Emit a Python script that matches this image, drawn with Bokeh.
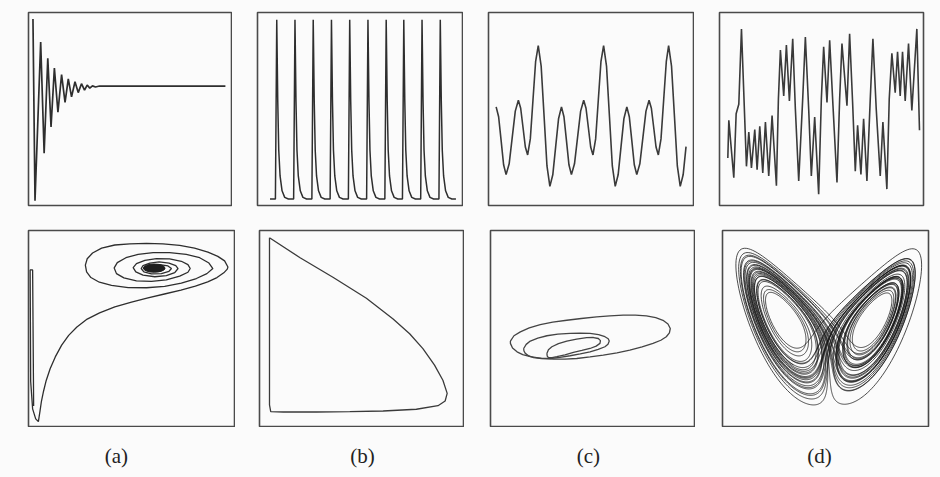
import numpy as np
from bokeh.plotting import figure
from bokeh.layouts import column, row
from bokeh.models import Range1d
from bokeh.core.properties import value
from bokeh.embed import file_html
from bokeh.resources import INLINE

INK = "#2e2e2e"
FRAME = "#4a4a4a"
BG = "#fbfbfb"

# ---------------------------------------------------------------- (a) fixed point
# time series: alternating extrema of the damped oscillation (time, value), 0-100 units
a_t = [2.2, 3.2, 6.0, 7.7, 9.5, 11.1, 12.75, 14.5, 16.3, 18.0, 19.6, 21.2, 22.9,
       24.5, 26.1, 27.6, 28.9, 30.2, 31.5, 33.0, 35.0, 97.0]
a_v = [96.6, 2.5, 84.7, 27.1, 76.3, 40.7, 71.2, 48.3, 67.8, 53.4, 65.6, 56.3, 64.1,
       58.5, 63.1, 59.8, 62.4, 60.8, 62.0, 61.4, 61.9, 61.9]
# phase portrait: trajectory spiralling into the stable focus
a_ph_x = [2.5, 2.0, 0.8, 1.05, 2.0, 3.5, 4.8,
          5.6, 6.3, 7.3, 8.6, 10.5, 13.0, 16.1, 19.5, 23.5, 28.5, 34.5, 41.9, 50.0,
          58.0, 66.0, 74.0, 81.0, 87.0, 91.5, 94.8, 96.5,
          96.8, 95.2, 91.9, 87.1, 80.6, 73.4, 65.3, 57.3, 49.2, 41.9, 35.5, 31.1, 28.5,
          27.6, 28.2, 30.3, 34.4, 40.3, 48.4, 57.3, 66.1, 74.2, 81.5, 86.6,
          89.5, 87.6, 83.1, 76.6, 68.5, 60.5, 53.2, 47.3, 43.1, 41.6, 42.7, 46.3, 52.4,
          59.7, 66.9, 73.4, 77.4,
          78.5, 77.4, 74.2, 68.5, 62.1, 56.5, 52.4, 50.8, 52.1, 55.6, 61.3, 66.9, 71.0,
          72.6, 71.5, 68.2, 63.4, 58.9, 55.6, 54.7, 56.0, 59.7, 64.5, 68.2,
          69.4, 67.7, 63.7, 59.7, 58.1, 59.7, 63.7, 66.1]
a_ph_y = [10.5, 79.9, 79.9, 23.1, 9.0, 3.9, 2.5,
          8.0, 13.0, 18.0, 23.5, 29.5, 35.5, 41.5, 46.5, 50.8, 54.8, 58.0, 61.0, 63.5,
          65.6, 67.6, 69.6, 71.6, 73.8, 76.0, 78.4, 80.3,
          81.4, 84.5, 86.8, 89.0, 91.0, 92.4, 93.2, 93.4, 93.2, 92.6, 91.0, 88.5, 85.6,
          82.3, 78.9, 76.0, 73.6, 72.0, 70.9, 70.8, 71.5, 73.1, 75.5, 78.0,
          80.6, 83.4, 86.1, 87.8, 88.7, 88.7, 87.8, 86.1, 83.6, 80.9, 78.0, 75.8, 74.3,
          74.0, 74.8, 76.7, 78.7,
          80.6, 82.6, 84.3, 85.5, 85.6, 84.8, 83.1, 81.1, 78.9, 77.2, 76.4, 77.0, 78.5,
          80.6, 82.1, 83.4, 84.0, 83.4, 82.1, 80.6, 78.9, 77.9, 78.0, 79.2,
          80.6, 81.9, 82.6, 82.1, 80.6, 79.2, 79.1, 80.4]
a_core = dict(x=[61.0], y=[80.8], w=[10.5], h=[4.2])

# ---------------------------------------------------------------- (b) limit cycle
b_peak_t = [9.39, 18.28, 27.18, 36.08, 44.98, 53.88, 62.78, 71.36, 80.26, 89.16]
b_spike_dt = [-0.65, 0.0, 0.49, 0.97, 1.62, 2.59, 3.88, 5.66]
b_spike_v = [3.4, 96.3, 54.2, 28.8, 15.3, 7.6, 4.2, 3.4]
b_start = (6.1, 3.4)
b_end = (96.8, 3.4)
b_ph_x = [4.9, 19.9, 36.2, 52.4, 65.5, 73.6, 80.1, 85.8, 89.9, 92.0, 91.0, 87.5, 76.9,
          60.6, 44.3, 28.0, 11.7, 5.5, 4.9, 4.9, 4.9]
b_ph_y = [96.3, 86.1, 76.0, 65.4, 54.9, 47.3, 39.7, 31.3, 23.6, 16.9, 13.0, 10.6, 8.8,
          7.9, 7.6, 7.4, 7.4, 7.6, 11.0, 56.6, 96.3]

# ---------------------------------------------------------------- (c) quasi-periodic
c_big_t = [-7.6, 24.27, 56.15, 87.86]          # times of the tall peaks
c_cycle_dt = [0, 1.42, 2.84, 4.25, 5.67, 7.09, 8.50, 9.92, 11.33, 12.54, 13.76, 14.97,
              16.18, 17.68, 19.18, 20.67, 22.17, 23.30, 24.44, 25.57, 26.70, 28.0,
              29.29, 30.58]
c_cycle_v = [82.8, 72.2, 46.4, 20.5, 9.9, 15.9, 30.5, 45.1, 51.1, 46.0, 33.6, 21.1,
             16.0, 21.6, 35.3, 48.9, 54.5, 50.4, 40.4, 30.3, 26.2, 34.5, 54.5, 74.5]
c_window = (3.7, 97.2)
c_loops = [
    ([9.76, 11.5, 14.63, 19.0, 24.39, 30.5, 37.40, 44.5, 52.03, 58.5, 65.04, 71.0, 76.42,
      81.0, 84.55, 87.0, 88.13, 87.7, 86.18, 83.5, 79.67, 74.3, 68.29, 62.0, 55.28, 48.8,
      42.28, 36.5, 30.89, 25.0, 19.51, 15.8, 13.01, 10.8, 9.76, 9.76],
     [43.6, 46.3, 48.3, 50.3, 52.0, 53.3, 54.2, 55.1, 55.9, 56.4, 56.8, 56.8, 56.4,
      55.5, 54.2, 52.3, 50.0, 47.8, 45.8, 44.0, 42.4, 40.6, 39.0, 37.6, 36.4, 35.5,
      34.7, 34.4, 34.4, 34.8, 35.6, 36.7, 38.1, 40.1, 42.4, 43.6]),
    ([16.26, 17.5, 19.51, 23.2, 27.64, 33.0, 39.02, 44.0, 48.78, 53.0, 56.10, 57.7,
      58.21, 57.6, 56.10, 52.8, 48.78, 44.0, 39.02, 34.0, 29.27, 25.0, 21.14, 18.8,
      17.07, 16.4, 16.26],
     [39.8, 41.9, 43.6, 45.1, 46.3, 47.1, 47.5, 47.6, 47.5, 46.9, 45.8, 44.8, 43.6,
      42.0, 40.7, 39.3, 38.1, 37.0, 36.1, 35.3, 34.7, 34.7, 35.1, 36.0, 37.3, 38.5,
      39.8]),
    ([27.64, 28.4, 30.08, 33.3, 37.40, 42.2, 47.15, 50.5, 52.85, 53.9, 53.66, 51.8,
      48.78, 44.8, 40.65, 36.5, 32.52, 30.2, 28.46, 27.8, 27.64],
     [37.3, 39.2, 40.7, 42.3, 43.6, 44.6, 45.3, 45.4, 44.9, 43.8, 42.4, 41.0, 39.8,
      38.8, 37.8, 36.6, 35.6, 35.1, 35.1, 35.9, 37.3]),
]

# ---------------------------------------------------------------- (d) chaos
d_t = [4.08, 4.57, 7.01, 8.16, 9.46, 10.77, 13.21, 14.36, 15.66, 17.29, 18.43, 19.74,
       21.21, 22.51, 24.14, 25.77, 27.90, 28.87, 29.85, 31.48, 32.79, 34.26, 35.89,
       37.19, 38.83, 40.78, 42.09, 43.72, 45.02, 46.66, 48.61, 49.92, 51.06, 52.69,
       54.0, 55.63, 57.59, 58.89, 60.03, 62.48, 63.78, 65.25, 66.56, 67.70, 69.33,
       70.64, 72.27, 73.90, 75.20, 76.83, 78.79, 80.10, 82.05, 83.20, 84.50, 86.13,
       87.28, 88.58, 89.72, 91.03, 92.66, 94.29, 96.74, 98.04]
d_v = [24.6, 44.1, 14.4, 47.5, 52.5, 91.5, 20.3, 38.1, 19.5, 39.3, 18.6, 41.0, 16.9,
       43.2, 15.3, 46.6, 10.2, 55.1, 80.5, 56.8, 83.1, 54.2, 86.4, 50.0, 12.7, 55.1,
       87.3, 50.0, 15.3, 45.8, 5.9, 55.1, 82.2, 53.4, 85.6, 51.7, 11.9, 55.1, 83.9,
       51.7, 89.0, 53.4, 17.8, 41.5, 16.1, 44.9, 12.7, 55.1, 86.4, 50.0, 15.3, 43.2,
       8.5, 55.1, 78.8, 58.5, 79.7, 56.8, 79.7, 54.2, 83.9, 49.2, 91.5, 39.0]
# strange attractor: Lorenz system, x-z projection
LORENZ_SIGMA, LORENZ_RHO, LORENZ_BETA = 10.0, 28.0, 8.0 / 3.0
LORENZ_START = (1.0, 1.0, 1.0)
LORENZ_DT = 0.004
LORENZ_STEPS = 14000
LORENZ_SKIP = 4000
d_xr = (-20.3, 19.0)
d_zr = (1.2, 48.5)

# captions under the columns
captions = ["(a)", "(b)", "(c)", "(d)"]
caption_x = [42.7, 50.5, 48.0, 47.1]


def lorenz_orbit():
    s, r, b = LORENZ_SIGMA, LORENZ_RHO, LORENZ_BETA
    x, y, z = LORENZ_START
    h = LORENZ_DT

    def f(x, y, z):
        return s * (y - x), x * (r - z) - y, x * y - b * z

    xs, zs = [], []
    for i in range(LORENZ_STEPS):
        k1 = f(x, y, z)
        k2 = f(x + 0.5 * h * k1[0], y + 0.5 * h * k1[1], z + 0.5 * h * k1[2])
        k3 = f(x + 0.5 * h * k2[0], y + 0.5 * h * k2[1], z + 0.5 * h * k2[2])
        k4 = f(x + h * k3[0], y + h * k3[1], z + h * k3[2])
        x += h / 6 * (k1[0] + 2 * k2[0] + 2 * k3[0] + k4[0])
        y += h / 6 * (k1[1] + 2 * k2[1] + 2 * k3[1] + k4[1])
        z += h / 6 * (k1[2] + 2 * k2[2] + 2 * k3[2] + k4[2])
        if i >= LORENZ_SKIP:
            xs.append(x)
            zs.append(z)
    return xs, zs


def spike_train():
    t, v = [b_start[0]], [b_start[1]]
    for pk in b_peak_t:
        t += [pk + d for d in b_spike_dt]
        v += list(b_spike_v)
    t.append(b_end[0])
    v.append(b_end[1])
    return t, v


def repeated_cycle():
    t, v = [], []
    for t0 in c_big_t:
        for d, val in zip(c_cycle_dt, c_cycle_v):
            if c_window[0] <= t0 + d <= c_window[1]:
                t.append(t0 + d)
                v.append(val)
    return t, v


def panel(w, h, left, right, top, bottom, xr=(0, 100), yr=(0, 100), frame=True):
    p = figure(width=w, height=h, x_range=Range1d(*xr), y_range=Range1d(*yr),
               toolbar_location=None, output_backend="svg",
               x_axis_location=None, y_axis_location=None,
               min_border_left=left, min_border_right=right,
               min_border_top=top, min_border_bottom=bottom)
    p.grid.visible = False
    p.background_fill_color = BG
    p.border_fill_color = BG
    if frame:
        p.outline_line_color = FRAME
        p.outline_line_width = 1.6
    else:
        p.outline_line_color = None
    return p


# top row: time series
pa = panel(232, 218, 28, 1, 8, 13)
pa.line(a_t, a_v, line_color=INK, line_width=1.7)

pb = panel(231, 218, 25, 1, 10, 11)
bt, bv = spike_train()
pb.line(bt, bv, line_color=INK, line_width=1.5)

pc = panel(231, 218, 25, 1, 12, 12)
ct, cv = repeated_cycle()
pc.line(ct, cv, line_color="#3a3a3a", line_width=1.6)

pd = panel(246, 218, 25, 17, 12, 10)
pd.line(d_t, d_v, line_color="#3a3a3a", line_width=1.6)

# middle row: phase portraits
qa = panel(235, 209, 28, 1, 10, 1)
qa.line(a_ph_x, a_ph_y, line_color=INK, line_width=1.3)
qa.ellipse(x=a_core["x"], y=a_core["y"], width=a_core["w"], height=a_core["h"],
           fill_color="#1e1e1e", line_color="#1e1e1e")

qb = panel(229, 209, 24, 1, 11, 1)
qb.line(b_ph_x, b_ph_y, line_color="#3a3a3a", line_width=1.3)

qc = panel(231, 209, 26, 1, 12, 1)
for lx, ly in c_loops:
    qc.line(lx, ly, line_color="#444444", line_width=1.3)

qd = panel(245, 209, 27, 12, 12, 1, xr=d_xr, yr=d_zr)
lx, lz = lorenz_orbit()
qd.line(lx, lz, line_color="#151515", line_width=0.85, line_alpha=0.9)

# bottom strip: captions, horizontally aligned with the frames above
strip = []
for w, left, right, txt, cx in zip([235, 229, 231, 245], [28, 24, 26, 27], [1, 1, 1, 12],
                                   captions, caption_x):
    s = panel(w, 50, left, right, 0, 0, yr=(0, 1), frame=False)
    s.text(x=[cx], y=[0.44], text=[txt], text_align="center", text_baseline="middle",
           text_font=value("Liberation Serif"), text_font_size="21px",
           text_color="#222222")
    strip.append(s)

layout = column(row(pa, pb, pc, pd), row(qa, qb, qc, qd), row(*strip))
layout.background = BG

open("out.html", "w").write(file_html(layout, INLINE))
